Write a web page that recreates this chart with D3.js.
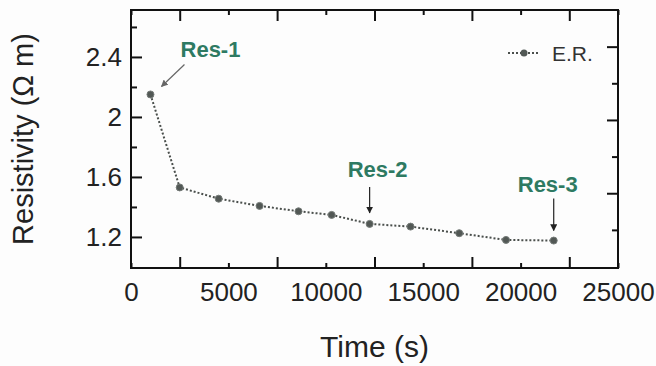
<!DOCTYPE html>
<html>
<head>
<meta charset="utf-8">
<script src="https://cdn.jsdelivr.net/npm/d3@7"></script>
<style>
  body { margin: 0; background: #fdfdfd; }
  svg { font-family: Arial, "Liberation Sans", sans-serif; }
</style>
</head>
<body>
<script>
var times = [1000, 2500, 4500, 6600, 8600, 10300, 12250, 14350, 16850, 19250, 21700];
var resistivity = [2.15, 1.53, 1.455, 1.407, 1.371, 1.347, 1.287, 1.269, 1.225, 1.18, 1.176];

var xLabelTicks = [0, 5000, 10000, 15000, 20000, 25000];
var xLongTicks = [2500, 7500, 12500, 17500, 22500];
var yMajorTicks = [1.2, 1.6, 2.0, 2.4];
var yMinorTicks = [1.4, 1.8, 2.2, 2.6];
var rightShortTicks = [1, 3, 5];
var rightLongTicks = [2, 4, 6];

var annLabels = ["Res-1", "Res-2", "Res-3"];
var annIndex = [0, 6, 10];
var legendLabel = "E.R.";

var w = 656, h = 366;
// plot frame (note: "top" is a reserved window property, so use other names)
var plotL = 131, plotR = 618, plotT = 10, plotB = 268;

var svg = d3.select("body").append("svg")
            .attr("width", w)
            .attr("height", h);

var x = d3.scaleLinear().domain([0, 25000]).range([plotL, plotR]);
var y = d3.scaleLinear().domain([0.993, 2.713]).range([plotB, plotT]);
var yRight = d3.scaleLinear().domain([-0.04, 7.0]).range([plotB, plotT]);

//axes, ticks pointing inside the frame
function styleAxis(g) {
  g.select(".domain").remove();
  g.selectAll("line").attr("stroke", "#111").attr("stroke-width", 2);
  g.selectAll("text").attr("fill", "#222").style("font-size", "26px");
}

svg.append("g")
   .attr("transform", "translate(0," + plotB + ")")
   .call(d3.axisBottom(x).tickValues(xLabelTicks).tickSizeInner(-5).tickSizeOuter(0).tickPadding(15).tickFormat(d3.format("d")))
   .call(styleAxis);
svg.append("g")
   .attr("transform", "translate(0," + plotB + ")")
   .call(d3.axisBottom(x).tickValues(xLongTicks).tickSizeInner(-11).tickSizeOuter(0).tickFormat(""))
   .call(styleAxis);
svg.append("g")
   .attr("transform", "translate(0," + plotT + ")")
   .call(d3.axisTop(x).tickValues(xLabelTicks).tickSizeInner(-5).tickSizeOuter(0).tickFormat(""))
   .call(styleAxis);
svg.append("g")
   .attr("transform", "translate(0," + plotT + ")")
   .call(d3.axisTop(x).tickValues(xLongTicks).tickSizeInner(-11).tickSizeOuter(0).tickFormat(""))
   .call(styleAxis);

svg.append("g")
   .attr("transform", "translate(" + plotL + ",0)")
   .call(d3.axisLeft(y).tickValues(yMajorTicks).tickSizeInner(-11).tickSizeOuter(0).tickPadding(9).tickFormat(function(d){ return String(+d.toFixed(1)); }))
   .call(styleAxis);
svg.append("g")
   .attr("transform", "translate(" + plotL + ",0)")
   .call(d3.axisLeft(y).tickValues(yMinorTicks).tickSizeInner(-6).tickSizeOuter(0).tickFormat(""))
   .call(styleAxis);

svg.append("g")
   .attr("transform", "translate(" + plotR + ",0)")
   .call(d3.axisRight(yRight).tickValues(rightShortTicks).tickSizeInner(-6).tickSizeOuter(0).tickFormat(""))
   .call(styleAxis);
svg.append("g")
   .attr("transform", "translate(" + plotR + ",0)")
   .call(d3.axisRight(yRight).tickValues(rightLongTicks).tickSizeInner(-11).tickSizeOuter(0).tickFormat(""))
   .call(styleAxis);

//frame
svg.append("rect")
   .attr("x", plotL).attr("y", plotT)
   .attr("width", plotR - plotL).attr("height", plotB - plotT)
   .attr("fill", "none")
   .attr("stroke", "#111")
   .attr("stroke-width", 2);

//axis titles
svg.append("text")
   .attr("x", (plotL + plotR) / 2)
   .attr("y", 357)
   .attr("text-anchor", "middle")
   .attr("fill", "#222")
   .style("font-size", "30px")
   .text("Time (s)");

svg.append("text")
   .attr("transform", "translate(33,139) rotate(-90)")
   .attr("text-anchor", "middle")
   .attr("fill", "#222")
   .style("font-size", "29px")
   .text("Resistivity (\u03A9 m)");

//dotted line and markers
var line = d3.line()
             .x(function(d, i){ return x(times[i]); })
             .y(function(d){ return y(d); });

svg.append("path")
   .datum(resistivity)
   .attr("d", line)
   .attr("fill", "none")
   .attr("stroke", "#4a4f4c")
   .attr("stroke-width", 2)
   .attr("stroke-dasharray", "2,2");

svg.selectAll("circle.pt")
   .data(resistivity)
   .enter()
   .append("circle")
   .attr("class", "pt")
   .attr("cx", function(d, i){ return x(times[i]); })
   .attr("cy", function(d){ return y(d); })
   .attr("r", 3.5)
   .attr("fill", "#525855")
   .attr("stroke", "#757b78")
   .attr("stroke-width", 1);

//legend
svg.append("line")
   .attr("x1", 508).attr("x2", 540)
   .attr("y1", 53).attr("y2", 53)
   .attr("stroke", "#4a4f4c")
   .attr("stroke-width", 2)
   .attr("stroke-dasharray", "2,2");
svg.append("circle")
   .attr("cx", 524).attr("cy", 53)
   .attr("r", 3.5)
   .attr("fill", "#525855");
svg.append("text")
   .attr("x", 552).attr("y", 61)
   .attr("fill", "#333")
   .style("font-size", "21px")
   .text(legendLabel);

//annotations
var defs = svg.append("defs");
function marker(id, color) {
  defs.append("marker")
      .attr("id", id)
      .attr("viewBox", "0 0 10 10")
      .attr("refX", 9).attr("refY", 5)
      .attr("markerWidth", 7).attr("markerHeight", 7)
      .attr("markerUnits", "userSpaceOnUse")
      .attr("orient", "auto")
      .append("path")
      .attr("d", "M0,0 L10,5 L0,10 Z")
      .attr("fill", color);
}
marker("headGray", "#666");
marker("headBlack", "#222");

// offsets from the pointed point: label, arrow start, arrow end
var annStyle = [
  { lx: 60, ly: -37, sx: 34, sy: -30, ex: 11, ey: -8, color: "#666", head: "headGray" },
  { lx: 8, ly: -47, sx: 0, sy: -37, ex: 0, ey: -11, color: "#222", head: "headBlack" },
  { lx: -6, ly: -49, sx: 0, sy: -42, ex: 0, ey: -10, color: "#222", head: "headBlack" }
];

annLabels.forEach(function(label, k) {
  var px = x(times[annIndex[k]]), py = y(resistivity[annIndex[k]]);
  var s = annStyle[k];
  svg.append("line")
     .attr("x1", px + s.sx).attr("y1", py + s.sy)
     .attr("x2", px + s.ex).attr("y2", py + s.ey)
     .attr("stroke", s.color)
     .attr("stroke-width", 1.2)
     .attr("marker-end", "url(#" + s.head + ")");
  svg.append("text")
     .attr("x", px + s.lx).attr("y", py + s.ly)
     .attr("text-anchor", "middle")
     .attr("fill", "#2e7a62")
     .style("font-size", "22px")
     .style("font-weight", "bold")
     .text(label);
});
</script>
</body>
</html>
